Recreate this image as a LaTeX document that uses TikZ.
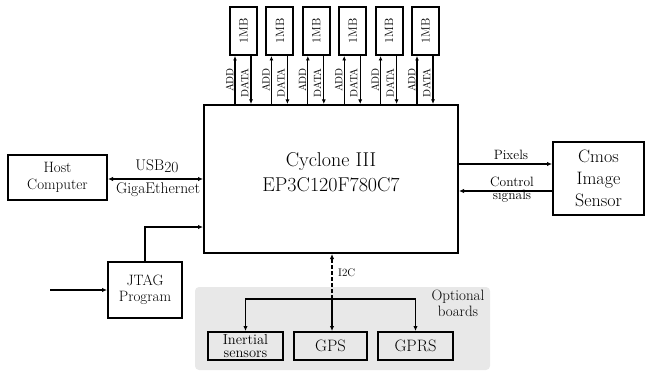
\documentclass[tikz,border=0pt]{standalone}
\usetikzlibrary{arrows.meta}
\begin{document}
\begin{tikzpicture}[x=1pt,y=-1pt,
  box/.style={draw, line width=2pt, inner sep=0pt, align=center},
  arr/.style={line width=1.6pt, -{Latex[length=5pt,width=4.5pt]}},
  darr/.style={line width=1.6pt, {Latex[length=5pt,width=4.5pt]}-{Latex[length=5pt,width=4.5pt]}},
  thin arr/.style={line width=1.1pt, -{Latex[length=4.5pt,width=4pt]}},
  lbl/.style={font=\fontsize{13.5}{13}\selectfont, inner sep=0pt, align=center},
  vlbl/.style={font=\fontsize{10.5}{10}\selectfont, inner sep=0pt, rotate=90}]
\useasboundingbox (0,0) rectangle (647,374);
% optional boards background
\fill[gray!18, rounded corners=4pt] (195,287) rectangle (490,370);
% main
\node[box, minimum width=254pt, minimum height=148pt] (main) at (331,179) {};
\node[font=\fontsize{20}{25}\selectfont, align=center, inner sep=0pt] (mtext) at (331,172) {Cyclone III\\EP3C120F780C7};
% memories
\foreach \i in {0,...,5}{
  \node[box, minimum width=27pt, minimum height=48pt] (m\i) at ({243.5+36.4*\i},31) {};
  \node[vlbl, font=\fontsize{12}{12}\selectfont] (mt\i) at (m\i) {1MB};
  \coordinate (a\i) at ([xshift=6pt]m\i.south west);
  \coordinate (d\i) at ([xshift=-7pt]m\i.south east);
  \draw[thin arr] (main.north -| a\i) -- (a\i);
  \draw[thin arr] (d\i) -- (main.north -| d\i);
  \node[vlbl] (al\i) at ([xshift=-5.5pt]a\i |- 0,80) {ADD};
  \node[vlbl] (dl\i) at ([xshift=-6.5pt]d\i |- 0,83) {DATA};
}
% host
\node[box, minimum width=99pt, minimum height=45pt, font=\fontsize{15}{17}\selectfont] (host) at (57.5,177.5) {Host\\Computer};
\draw[darr] ([yshift=-1.5pt]host.east) -- ([yshift=-1.5pt]host.east -| main.west);
\node[lbl, font=\fontsize{15.5}{16}\selectfont] (usb) at (157,166) {USB\raisebox{-0.35ex}{20}};
\node[lbl, font=\fontsize{15.5}{16}\selectfont] (giga) at (158,190) {GigaEthernet};
% cmos
\node[box, minimum width=91pt, minimum height=73pt, font=\fontsize{18}{22}\selectfont] (cmos) at (598.5,178.5) {Cmos\\Image\\Sensor};
\draw[arr] ([yshift=14.5pt]cmos.west -| main.east) -- ([yshift=14.5pt]cmos.west);
\draw[arr] ([yshift=-12.5pt]cmos.west) -- ([yshift=-12.5pt]cmos.west -| main.east);
\node[lbl] (pix) at (511,155) {Pixels};
\node[lbl] (ctl) at (512,190) {Control\\signals};
% jtag
\node[box, minimum width=74pt, minimum height=56pt, font=\fontsize{15}{16}\selectfont] (jtag) at (145,290) {JTAG\\Program};
\coordinate (src) at (50,290);
\draw[arr] (src) -- (jtag.west);
\draw[arr] (jtag.north) |- ([yshift=-48pt]main.west);
% optional boards
\node[box, minimum width=75pt, minimum height=28pt, font=\fontsize{14.5}{13}\selectfont] (iner) at (245.5,346) {Inertial\\sensors};
\node[box, minimum width=73pt, minimum height=28pt, font=\fontsize{16.5}{17}\selectfont] (gps) at (330.5,346) {GPS};
\node[box, minimum width=75pt, minimum height=28pt, font=\fontsize{16.5}{17}\selectfont] (gprs) at (415.5,346) {GPRS};
\coordinate (j) at (332,299);
\draw[arr, dashed, dash pattern=on 4pt off 2pt] (j) -- (j |- main.south);
\draw[arr] (j) -- (j |- gps.north);
\draw[arr] (j) -| (iner.north);
\draw[arr] (j) -| (gprs.north);
\node[lbl, font=\fontsize{11}{12}\selectfont, anchor=west] (i2c) at (338,273) {I2C};
\node[lbl, font=\fontsize{15}{16}\selectfont] (opt) at (458,303) {Optional\\boards};
\end{tikzpicture}
\end{document}
